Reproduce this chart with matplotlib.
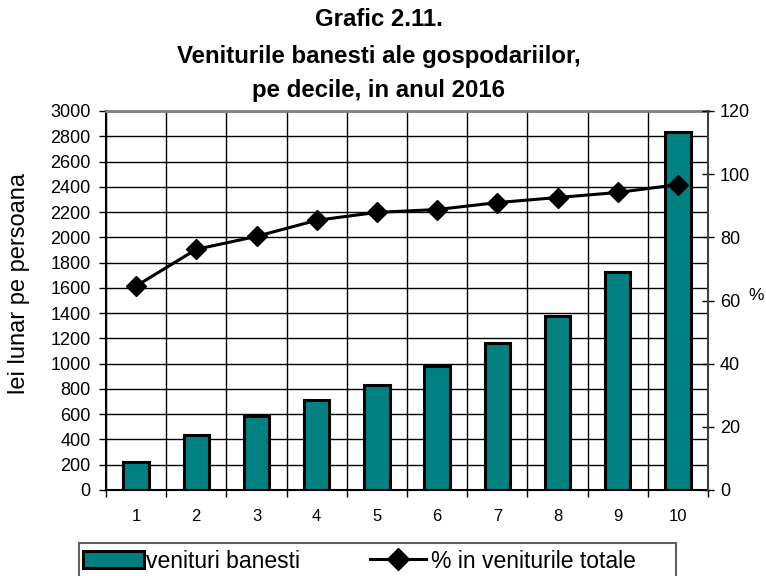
import matplotlib.pyplot as plt
from matplotlib.lines import Line2D
from matplotlib.patches import Patch, Rectangle
import numpy as np

plt.rcParams['font.family'] = ['Liberation Sans', 'DejaVu Sans']

# deciles
decile_labels = ['1', '2', '3', '4', '5', '6', '7', '8', '9', '10']
# lei lunar pe persoana
venituri = [220, 433, 583, 709, 835, 984, 1165, 1378, 1724, 2835]
# % in veniturile totale
procent = [64.6, 76.2, 80.3, 85.4, 87.9, 88.8, 91.0, 92.6, 94.2, 96.7]

title_lines = ['Grafic 2.11.', 'Veniturile banesti ale gospodariilor,', 'pe decile, in anul 2016']

teal = '#008080'
W, H = 766, 576

fig = plt.figure(figsize=(W / 100, H / 100), dpi=100)
ax = fig.add_axes([106 / W, 1 - 490 / H, (708 - 106) / W, (490 - 111) / H])
x = np.arange(1, len(venituri) + 1)

ax.bar(x, venituri, width=0.42, color=teal, edgecolor='black', linewidth=2.2, zorder=3)
ax.set_xlim(0.5, 10.5)
ax.set_ylim(0, 3000)
ax.set_yticks(np.arange(0, 3001, 200))
ax.set_xticks(x)
ax.set_xticklabels(decile_labels)
ax.set_xticks(np.arange(0.5, 10.6, 1), minor=True)
ax.tick_params(axis='x', which='major', length=0, pad=14, labelsize=12)
ax.tick_params(axis='x', which='minor', length=5, direction='out', width=1)
ax.tick_params(axis='y', length=5, width=1, labelsize=13, pad=6)
ax.grid(True, axis='y', color='black', linewidth=1, zorder=0)
ax.grid(True, axis='x', which='minor', color='black', linewidth=1, zorder=0)
for side in ['left', 'bottom']:
    ax.spines[side].set_linewidth(1.5)
ax.spines['top'].set_color('#808080')
ax.spines['top'].set_linewidth(2)
ax.spines['right'].set_visible(False)

ax2 = ax.twinx()
ax2.plot(x, procent, color='black', linewidth=2.2, marker='D', markersize=10.5, zorder=4)
ax2.set_ylim(0, 120)
ax2.set_yticks(np.arange(0, 121, 20))
ax2.tick_params(axis='y', length=9, width=1, direction='inout', labelsize=13, pad=4)
ax2.spines['right'].set_linewidth(1.5)
ax2.spines['right'].set_color('#404040')
for side in ['top', 'left', 'bottom']:
    ax2.spines[side].set_visible(False)

fig.text(19 / W, 1 - 283 / H, 'lei lunar pe persoana', rotation=90, ha='center', va='center', fontsize=17)
fig.text(764 / W, 1 - 295 / H, '%', ha='right', va='center', fontsize=12.5)

for yy, line in zip([20, 56, 91], title_lines):
    fig.text(379 / W, 1 - yy / H, line, ha='center', va='center', fontsize=17.3, fontweight='bold')

# legend frame
fig.patches.append(Rectangle((79 / W, -0.05), (676 - 79) / W, 0.05 + 1 - 543 / H, transform=fig.transFigure,
                             facecolor='white', edgecolor='#606060', linewidth=1.5, zorder=0))

bar_handle = Patch(facecolor=teal, edgecolor='black', linewidth=2.2)
line_handle = Line2D([0], [0], color='black', linewidth=2.2, marker='D', markersize=11)
fig.legend([bar_handle], ['venituri banesti'], loc='center left', bbox_to_anchor=(83 / W, 1 - 561 / H),
           fontsize=16.5, frameon=False, handlelength=2.65, handleheight=0.8, handletextpad=0.1,
           borderpad=0, borderaxespad=0)
fig.legend([line_handle], ['% in veniturile totale'], loc='center left', bbox_to_anchor=(370 / W, 1 - 561 / H),
           fontsize=16.5, frameon=False, handlelength=2.45, handletextpad=0.2,
           borderpad=0, borderaxespad=0)

fig.savefig('out.png', dpi=100)
